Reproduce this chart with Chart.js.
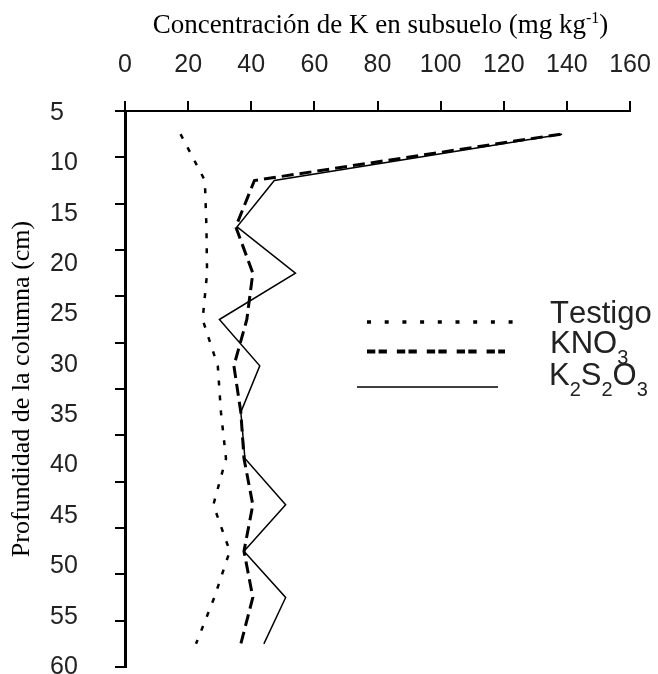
<!DOCTYPE html>
<html><head><meta charset="utf-8">
<script src="https://cdn.jsdelivr.net/npm/chart.js@4/dist/chart.umd.min.js"></script>
<style>html,body{margin:0;padding:0;background:#fff}#wrap{width:658px;height:674px;position:relative}</style>
</head><body><div id="wrap"><canvas id="c"></canvas></div>
<script>
// ---- data ----
const depths = [2.5, 7.5, 12.5, 17.5, 22.5, 27.5, 32.5, 37.5, 42.5, 47.5, 52.5, 57.5];
const testigo = [17.6, 25.3, 25.8, 26.0, 24.6, 29.4, 30.4, 32.0, 28.0, 33.2, 28.3, 22.5];
const kno3 = [138.0, 41.0, 35.1, 40.5, 38.6, 34.5, 36.7, 37.7, 40.5, 37.7, 40.5, 36.7];
const k2s2o3 = [138.5, 47.3, 35.5, 54.0, 29.9, 42.7, 36.7, 38.0, 50.9, 37.7, 50.9, 44.0];
const xTicks = [0, 20, 40, 60, 80, 100, 120, 140, 160];
const depthLabels = [5, 10, 15, 20, 25, 30, 35, 40, 45, 50, 55, 60];
const seriesNames = ['Testigo', 'KNO3', 'K2S2O3'];
const xTitleMain = 'Concentración de K en subsuelo (mg kg';
const xTitleSup = '-1';
const xTitleEnd = ')';
const yTitle = 'Profundidad de la columna (cm)';

const tickFont = {family: "'Liberation Sans Narrow', 'Arial Narrow', 'Liberation Sans', Arial, sans-serif", size: 25};
const serif = "'Liberation Serif', 'Times New Roman', serif";

function pts(vals) { return depths.map((d, i) => ({x: vals[i], y: d})); }

const styles = [
  {borderDash: [5, 10], borderWidth: 2.5},
  {borderDash: [12, 6], borderWidth: 3},
  {borderDash: [], borderWidth: 1.5}
];
const legendStyle = [
  {x1: 367, x2: 514, y: 322, dash: [4, 13.7], w: 3.5, tx: 550, ty: 323},
  {x1: 367, x2: 505, y: 351.5, dash: [8.3, 3.3, 8.3, 10], w: 4, tx: 550, ty: 353},
  {x1: 357, x2: 498, y: 387, dash: [], w: 1.6, tx: 549, ty: 385}
];

const textPlugin = {
  id: 'texts',
  afterDraw(chart) {
    const ctx = chart.ctx;
    const ca = chart.chartArea;
    ctx.save();
    const size = 27;
    const fMain = size + 'px ' + serif;
    const fSup = Math.round(size * 0.6) + 'px ' + serif;
    ctx.font = fMain;
    const w1 = ctx.measureText(xTitleMain).width;
    const w3 = ctx.measureText(xTitleEnd).width;
    ctx.font = fSup;
    const w2 = ctx.measureText(xTitleSup).width;
    let x = (ca.left + ca.right) / 2 + 3 - (w1 + w2 + w3) / 2;
    const y = 33;
    ctx.fillStyle = '#000';
    ctx.textBaseline = 'alphabetic';
    ctx.textAlign = 'left';
    ctx.font = fMain; ctx.fillText(xTitleMain, x, y); x += w1;
    ctx.font = fSup; ctx.fillText(xTitleSup, x, y - size * 0.38); x += w2;
    ctx.font = fMain; ctx.fillText(xTitleEnd, x, y);

    const lf = "31px 'Liberation Sans', Arial, sans-serif";
    const sf = "20px 'Liberation Sans', Arial, sans-serif";
    seriesNames.forEach((name, i) => {
      const s = legendStyle[i];
      ctx.save();
      ctx.strokeStyle = '#000';
      ctx.lineWidth = s.w;
      ctx.lineCap = 'butt';
      ctx.setLineDash(s.dash);
      ctx.beginPath();
      ctx.moveTo(s.x1, s.y);
      ctx.lineTo(s.x2, s.y);
      ctx.stroke();
      ctx.restore();
      let tx = s.tx;
      ctx.fillStyle = '#222';
      for (const ch of name) {
        const sub = /[0-9]/.test(ch) && i > 0;
        ctx.font = sub ? sf : lf;
        ctx.fillText(ch, tx, sub ? s.ty + 11 : s.ty);
        tx += ctx.measureText(ch).width;
      }
    });
    ctx.restore();
  }
};

const datasets = [testigo, kno3, k2s2o3].map((vals, i) => ({
  label: seriesNames[i],
  data: pts(vals),
  borderColor: '#000',
  backgroundColor: '#000',
  borderDash: styles[i].borderDash,
  borderWidth: styles[i].borderWidth,
  borderCapStyle: 'butt',
  pointRadius: 0,
  tension: 0,
  fill: false,
  xAxisID: 'x',
  yAxisID: 'y'
}));

new Chart(document.getElementById('c'), {
  type: 'line',
  data: {datasets},
  options: {
    responsive: true,
    maintainAspectRatio: false,
    animation: false,
    indexAxis: 'y',
    layout: {padding: {top: 0, left: 0, right: 28, bottom: 7}},
    plugins: {legend: {display: false}, tooltip: {enabled: false}},
    scales: {
      x: {
        type: 'linear', position: 'top', min: 0, max: 160,
        afterBuildTicks: s => { s.ticks = xTicks.map(v => ({value: v})); },
        ticks: {font: tickFont, color: '#222', padding: 21, maxRotation: 0, autoSkip: false},
        grid: {drawOnChartArea: false, tickLength: 10, lineWidth: 2, color: '#000'},
        border: {width: 2, color: '#000'},
        afterFit: s => { s.height = 111; s.paddingLeft = 0; s.paddingRight = 0; }
      },
      y: {
        type: 'linear', position: 'left', weight: 0, reverse: true, min: 0, max: 60,
        ticks: {display: false, stepSize: 5},
        grid: {drawOnChartArea: false, tickLength: 10, lineWidth: 2, color: '#000'},
        border: {width: 3, color: '#000'},
        afterFit: s => { s.width = 10; s.paddingTop = 0; s.paddingBottom = 0; }
      },
      yl: {
        type: 'linear', position: 'left', weight: 1, reverse: true, min: 4.8, max: 60,
        afterBuildTicks: s => { s.ticks = depthLabels.map(v => ({value: v})); },
        ticks: {font: tickFont, color: '#222', crossAlign: 'far', autoSkip: false},
        grid: {display: false},
        border: {display: false},
        afterFit: s => { s.width = 65; s.paddingTop = 0; s.paddingBottom = 0; }
      },
      yt: {
        type: 'linear', position: 'left', weight: 2, min: 0, max: 1,
        ticks: {display: false},
        grid: {display: false, drawTicks: false},
        border: {display: false},
        title: {display: true, text: yTitle, color: '#000', font: {family: serif, size: 26}, padding: {top: 7, bottom: 0}},
        afterFit: s => { s.width = 50; s.paddingTop = 0; s.paddingBottom = 0; }
      }
    }
  },
  plugins: [textPlugin]
});
</script>
</body></html>
